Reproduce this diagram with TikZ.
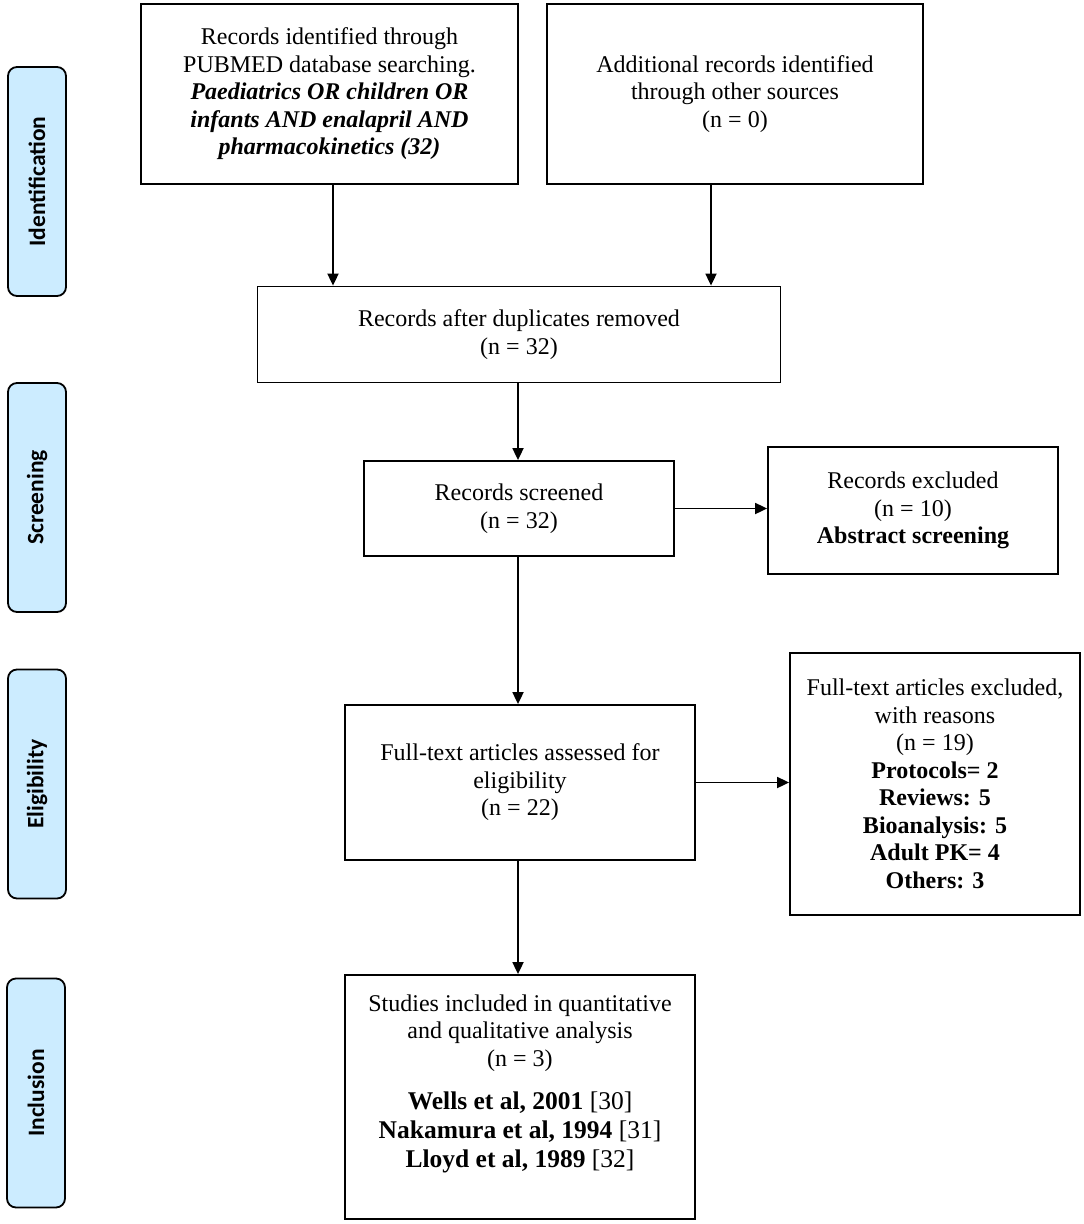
\documentclass[tikz,border=0pt]{standalone}
\usepackage{fontspec}
\setmainfont{Liberation Serif}
\newfontfamily\sidefont{Carlito}
\usetikzlibrary{arrows.meta}
\definecolor{sideblue}{RGB}{204,236,255}
\newcommand\refline[2]{{\fontsize{25.5}{29}\selectfont\textbf{#1} #2}}
\tikzset{
  box/.style={draw=black, line width=1.8pt, fill=white, inner sep=0pt, align=center,
    font=\fontsize{24}{27.5}\selectfont},
  side/.style={draw=black, line width=1.8pt, fill=sideblue, rounded corners=9pt, inner sep=0pt,
    minimum width=229pt, minimum height=58pt, rotate=90,
    font=\sidefont\bfseries\fontsize{23.5}{26}\selectfont},
  arr/.style={line width=1.8pt, -{Triangle[length=12pt,width=11pt]}}
}
\begin{document}
\begin{tikzpicture}[x=1pt,y=-1pt]
\useasboundingbox (0,0) rectangle (1084,1224);
% side labels
\node[side] (sid) at (37,181.5) {Identification};
\node[side] (sscr) at (37,497.5) {Screening};
\node[side] (selig) at (37,784) {Eligibility};
\node[side] (sincl) at (36,1093) {Inclusion};
% boxes
\node[box, minimum width=377pt, minimum height=180pt] (b1) at (329.5,94)
  {Records identified through\\PUBMED database searching.\\
   \textbf{\textit{Paediatrics OR children OR}}\\
   \textbf{\textit{infants AND enalapril AND}}\\
   \textbf{\textit{pharmacokinetics (32)}}};
\node[box, minimum width=376pt, minimum height=180pt] (b2) at (735,94)
  {Additional records identified\\through other sources\\(n = 0)};
\node[box, minimum width=523pt, minimum height=96pt] (b3) at (519,334.5)
  {Records after duplicates removed\\(n = 32)};
\node[box, minimum width=310pt, minimum height=95pt] (b4) at (519,508.5)
  {Records screened\\(n = 32)};
\node[box, minimum width=290pt, minimum height=127pt] (b5) at (913,510.5)
  {Records excluded\\(n = 10)\\\textbf{Abstract screening}};
\node[box, minimum width=350pt, minimum height=155pt] (b6) at (520,782.5)
  {Full-text articles assessed for\\eligibility\\(n = 22)};
\node[box, minimum width=290pt, minimum height=262pt] (b7) at (935,784)
  {Full-text articles excluded,\\with reasons\\(n = 19)\\
   \textbf{Protocols= 2}\\\textbf{Reviews: 5}\\\textbf{Bioanalysis: 5}\\
   \textbf{Adult PK= 4}\\\textbf{Others: 3}};
\node[box, minimum width=350pt, minimum height=244pt] (b8) at (520,1097)
  {Studies included in quantitative\\and qualitative analysis\\(n = 3)\\[16pt]
   \refline{Wells et al, 2001}{[30]}\\[1.5pt]
   \refline{Nakamura et al, 1994}{[31]}\\[1.5pt]
   \refline{Lloyd et al, 1989}{[32]}\\[4pt]\mbox{}};
% connectors
\draw[arr] ([xshift=3.5pt]b1.south) -- ([xshift=3.5pt]b1.south |- b3.north);
\draw[arr] ([xshift=-24pt]b2.south) -- ([xshift=-24pt]b2.south |- b3.north);
\draw[arr] ([xshift=-1pt]b3.south) -- ([xshift=-1pt]b3.south |- b4.north);
\draw[arr] (b4.east) -- (b4.east -| b5.west);
\draw[arr] ([xshift=-1pt]b4.south) -- ([xshift=-1pt]b4.south |- b6.north);
\draw[arr] (b6.east) -- (b6.east -| b7.west);
\draw[arr] ([xshift=-2pt]b6.south) -- ([xshift=-2pt]b6.south |- b8.north);
\end{tikzpicture}
\end{document}
